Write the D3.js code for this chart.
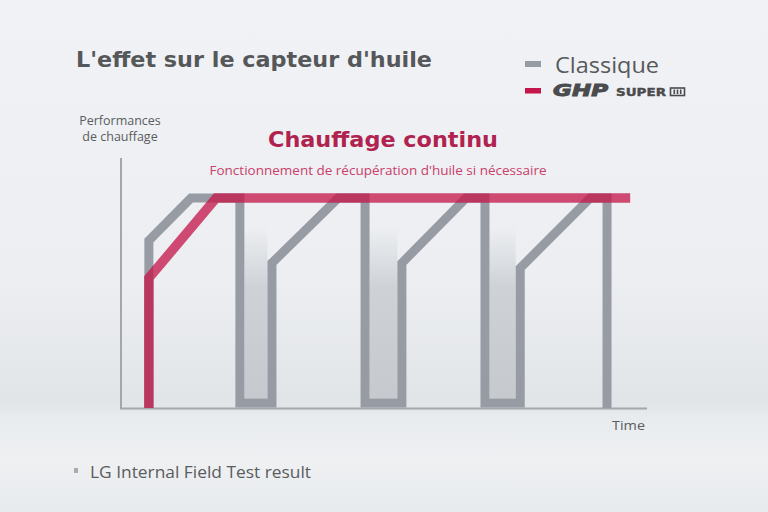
<!DOCTYPE html>
<meta charset="utf-8">
<style>
body { margin: 0; }
svg { display: block; }
.title { font: bold 22px "DejaVu Sans", sans-serif; fill: #555759; }
.legend { font: 22.5px "Open Sans", sans-serif; fill: #58595b; }
.ylab, .note { font-family: "Open Sans", sans-serif; fill: #5a5c5e; }
.head { font: bold 22px "DejaVu Sans", sans-serif; fill: #b0234f; }
.sub { font: 13.5px "Open Sans", sans-serif; fill: #c9406a; }
.axis { stroke: #a3a6aa; stroke-width: 2; fill: none; }
</style>
<svg width="768" height="512"></svg>
<script src="https://cdn.jsdelivr.net/npm/d3@7"></script>
<script>

// time (0-100) and heating performance (0-100)
var classiqueT = [5.3, 5.3, 13.3, 22.6, 22.6, 28.7, 28.7, 41.3, 46.4, 46.4, 53.4, 53.4, 65.6, 69.2, 69.2, 75.9, 75.9, 89.2, 92.4, 92.4]
var classiqueP = [0, 67, 84, 84, 2, 2, 58, 84, 84, 2, 2, 58, 84, 84, 2, 2, 56, 84, 84, 0]
var ghpT = [5.3, 5.3, 18.1, 96.8]
var ghpP = [0, 52, 84, 84]

var series = ["Classique", "GHP SUPER III"]
var colors = ["#979ba3", "#c4164a"]

var svg = d3.select("svg")
var defs = svg.append("defs")

// room-like background
var bg = defs.append("linearGradient").attr("id", "bg")
    .attr("x1", 0).attr("y1", 0).attr("x2", 0).attr("y2", 1)
bg.selectAll("stop")
  .data([[0, "#f0f2f5"], [0.55, "#eceef1"], [0.78, "#e2e5e8"], [0.8, "#e4e7ea"], [0.81, "#e8ebee"], [0.9, "#eef0f2"], [1, "#e8ebee"]])
  .enter().append("stop")
    .attr("offset", function(d) { return d[0]; })
    .attr("stop-color", function(d) { return d[1]; })

var vg = defs.append("linearGradient").attr("id", "valley")
    .attr("x1", 0).attr("y1", 0).attr("x2", 0).attr("y2", 1)
vg.selectAll("stop")
  .data([[0, "#c9cdd2", 0], [0.35, "#c9cdd2", 0.85], [1, "#c6cacf", 1]])
  .enter().append("stop")
    .attr("offset", function(d) { return d[0]; })
    .attr("stop-color", function(d) { return d[1]; })
    .attr("stop-opacity", function(d) { return d[2]; })

svg.append("rect").attr("width", 768).attr("height", 512).attr("fill", "url(#bg)")

var x = d3.scaleLinear().domain([0, 100]).range([121, 647])
var y = d3.scaleLinear().domain([0, 100]).range([408, 158])

var line = d3.line()
    .x(function(d) { return x(d[0]); })
    .y(function(d) { return y(d[1]); })

var classique = d3.zip(classiqueT, classiqueP)
var ghp = d3.zip(ghpT, ghpP)

// shaded valleys where the classic unit drops out
var valleys = []
for (var i = 0; i < classique.length - 1; i++) {
  if (classique[i][1] === 2 && classique[i + 1][1] === 2) valleys.push([classique[i][0], classique[i + 1][0]])
}
svg.selectAll(".valley")
  .data(valleys)
  .enter().append("rect")
    .attr("class", "valley")
    .attr("x", function(d) { return x(d[0]) + 4.5; })
    .attr("width", function(d) { return x(d[1]) - x(d[0]) - 9; })
    .attr("y", y(72))
    .attr("height", y(2) - 4.5 - y(72))
    .attr("fill", "url(#valley)")

// axes
svg.append("path").attr("class", "axis")
    .attr("d", "M" + x(0) + "," + (y(100)) + "V" + (y(0) + 0.5) + "H" + x(100))

svg.append("path")
    .attr("d", line(classique))
    .attr("fill", "none")
    .attr("stroke", colors[0])
    .attr("stroke-width", 9)
    .attr("stroke-linejoin", "miter")

svg.append("path")
    .attr("d", line(ghp))
    .attr("fill", "none")
    .attr("stroke", colors[1])
    .attr("stroke-opacity", 0.76)
    .attr("stroke-width", 9.5)
    .attr("stroke-linejoin", "miter")

// texts
svg.append("text").attr("class", "title").attr("x", 76).attr("y", 67)
    .attr("textLength", 356).attr("lengthAdjust", "spacingAndGlyphs").text("L'effet sur le capteur d'huile")

svg.append("text").attr("class", "ylab").attr("x", 120).attr("y", 125)
    .attr("text-anchor", "middle").style("font-size", "12.5px").text("Performances")
svg.append("text").attr("class", "ylab").attr("x", 120).attr("y", 141)
    .attr("text-anchor", "middle").style("font-size", "12.5px").text("de chauffage")

svg.append("text").attr("class", "head").attr("x", 383).attr("y", 147)
    .attr("text-anchor", "middle").attr("textLength", 230).attr("lengthAdjust", "spacingAndGlyphs")
    .text("Chauffage continu")
svg.append("text").attr("class", "sub").attr("x", 378).attr("y", 175)
    .attr("text-anchor", "middle").text("Fonctionnement de récupération d'huile si nécessaire")

svg.append("text").attr("class", "note").attr("x", 612).attr("y", 430)
    .style("font-size", "13.5px").attr("textLength", 33).attr("lengthAdjust", "spacingAndGlyphs").text("Time")

svg.append("rect").attr("x", 74).attr("y", 468).attr("width", 4).attr("height", 5).attr("fill", "#a9acb0")
svg.append("text").attr("class", "note").attr("x", 90).attr("y", 478)
    .style("font-size", "17px").attr("textLength", 221).attr("lengthAdjust", "spacingAndGlyphs")
    .text("LG Internal Field Test result")

// legend
var lg = svg.append("g")
lg.append("rect").attr("x", 525).attr("y", 61).attr("width", 16).attr("height", 6).attr("fill", colors[0])
lg.append("text").attr("class", "legend").attr("x", 555).attr("y", 73)
    .attr("textLength", 104).attr("lengthAdjust", "spacingAndGlyphs").text(series[0])
lg.append("rect").attr("x", 525).attr("y", 88).attr("width", 16).attr("height", 5.5).attr("fill", colors[1])
lg.append("text").attr("x", 553).attr("y", 95.5)
    .style("font", "italic bold 15px 'DejaVu Sans', sans-serif").attr("fill", "#4a4b4d")
    .attr("stroke", "#4a4b4d").attr("stroke-width", 0.9)
    .attr("textLength", 55).attr("lengthAdjust", "spacingAndGlyphs").text("GHP")
lg.append("text").attr("x", 616).attr("y", 95.5)
    .style("font", "bold 11px 'DejaVu Sans', sans-serif").attr("fill", "#4a4b4d")
    .attr("stroke", "#4a4b4d").attr("stroke-width", 0.4)
    .attr("textLength", 50).attr("lengthAdjust", "spacingAndGlyphs").text("SUPER")
lg.append("rect").attr("x", 670.5).attr("y", 88).attr("width", 14).attr("height", 7.5)
    .attr("fill", "none").attr("stroke", "#4a4b4d").attr("stroke-width", 1.6)
lg.selectAll(".bar").data([0, 1, 2]).enter().append("rect")
    .attr("x", function(d) { return 673.5 + d * 3.2; }).attr("y", 89.5)
    .attr("width", 1.6).attr("height", 4.5).attr("fill", "#4a4b4d")

</script>
